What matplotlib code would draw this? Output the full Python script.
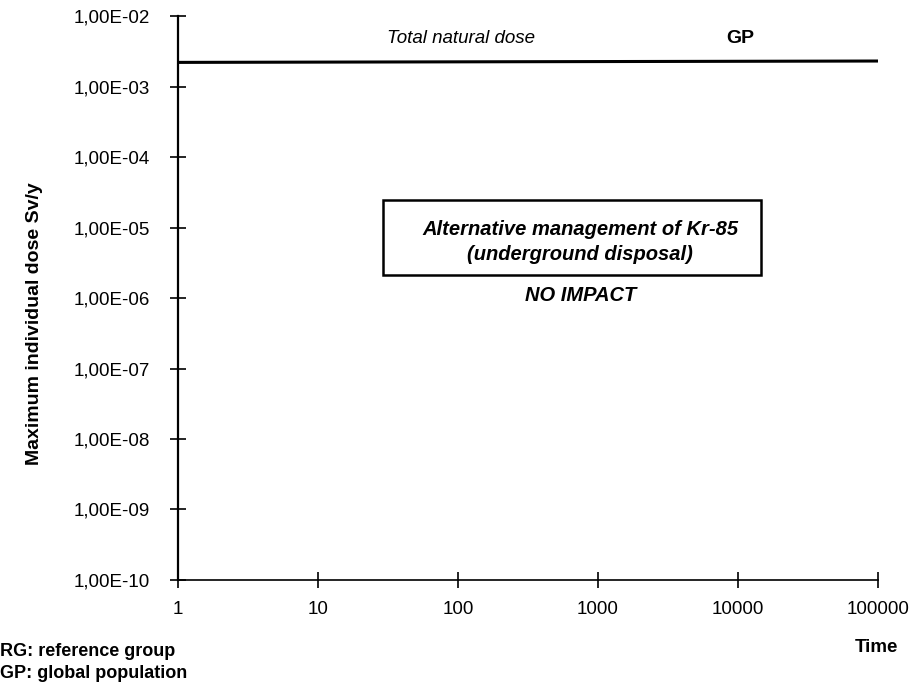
import matplotlib
matplotlib.use("Agg")
import matplotlib.pyplot as plt
from matplotlib.patches import Rectangle

plt.rcParams['font.family'] = ['Liberation Sans', 'DejaVu Sans']

# total natural dose line (Sv/y) over time
time = [1, 100000]
natural_dose = [2.2e-3, 2.3e-3]

x_ticks = [1, 10, 100, 1000, 10000, 100000]
x_labels = ["1", "10", "100", "1000", "10000", "100000"]
y_ticks = [1e-10, 1e-9, 1e-8, 1e-7, 1e-6, 1e-5, 1e-4, 1e-3, 1e-2]
y_labels = ["1,00E-10", "1,00E-09", "1,00E-08", "1,00E-07", "1,00E-06",
            "1,00E-05", "1,00E-04", "1,00E-03", "1,00E-02"]

fig = plt.figure(figsize=(9.1, 6.88), dpi=100)
ax = fig.add_axes([0.1956, 0.157, 0.769, 0.8197])

ax.plot(time, natural_dose, color='black', linewidth=2.2)

ax.set_xscale('log')
ax.set_yscale('log')
ax.set_xlim(1, 100000)
ax.set_ylim(1e-10, 1e-2)
ax.set_xticks(x_ticks)
ax.set_xticklabels(x_labels)
ax.set_yticks(y_ticks)
ax.set_yticklabels(y_labels)
ax.minorticks_off()
ax.tick_params(direction='inout', length=12, width=1.2, labelsize=13.5)
ax.tick_params(axis='y', pad=14)
ax.tick_params(axis='x', pad=9)

for s in ['top', 'right']:
    ax.spines[s].set_visible(False)
ax.spines['left'].set_linewidth(1.6)
ax.spines['bottom'].set_linewidth(1.2)

fig.text(35 / 910, 1 - 324 / 688, "Maximum individual dose Sv/y", rotation=90,
         ha='center', va='center', fontsize=14, fontweight='bold')

ax.text(0.404, 0.961, "Total natural dose", transform=ax.transAxes, ha='center', va='center',
        fontsize=13.5, style='italic')
ax.text(0.804, 0.961, "GP", transform=ax.transAxes, ha='center', va='center',
        fontsize=14, fontweight='bold')

ax.add_patch(Rectangle((0.293, 0.541), 0.54, 0.133, transform=ax.transAxes,
                       fill=False, edgecolor='black', linewidth=1.8))
ax.text(0.575, 0.622, "Alternative management of Kr-85", transform=ax.transAxes,
        ha='center', va='center', fontsize=14.5, style='italic', fontweight='bold')
ax.text(0.575, 0.578, "(underground disposal)", transform=ax.transAxes,
        ha='center', va='center', fontsize=14.5, style='italic', fontweight='bold')
ax.text(0.575, 0.504, "NO IMPACT", transform=ax.transAxes,
        ha='center', va='center', fontsize=14.5, style='italic', fontweight='bold')

fig.text(876 / 910, 1 - 647 / 688, "Time", ha='center', va='center', fontsize=13.5, fontweight='bold')
fig.text(0.0, 1 - 651 / 688, "RG: reference group", ha='left', va='center', fontsize=13, fontweight='bold')
fig.text(0.0, 1 - 674 / 688, "GP: global population", ha='left', va='center', fontsize=13, fontweight='bold')

fig.savefig("out.png", dpi=100)
